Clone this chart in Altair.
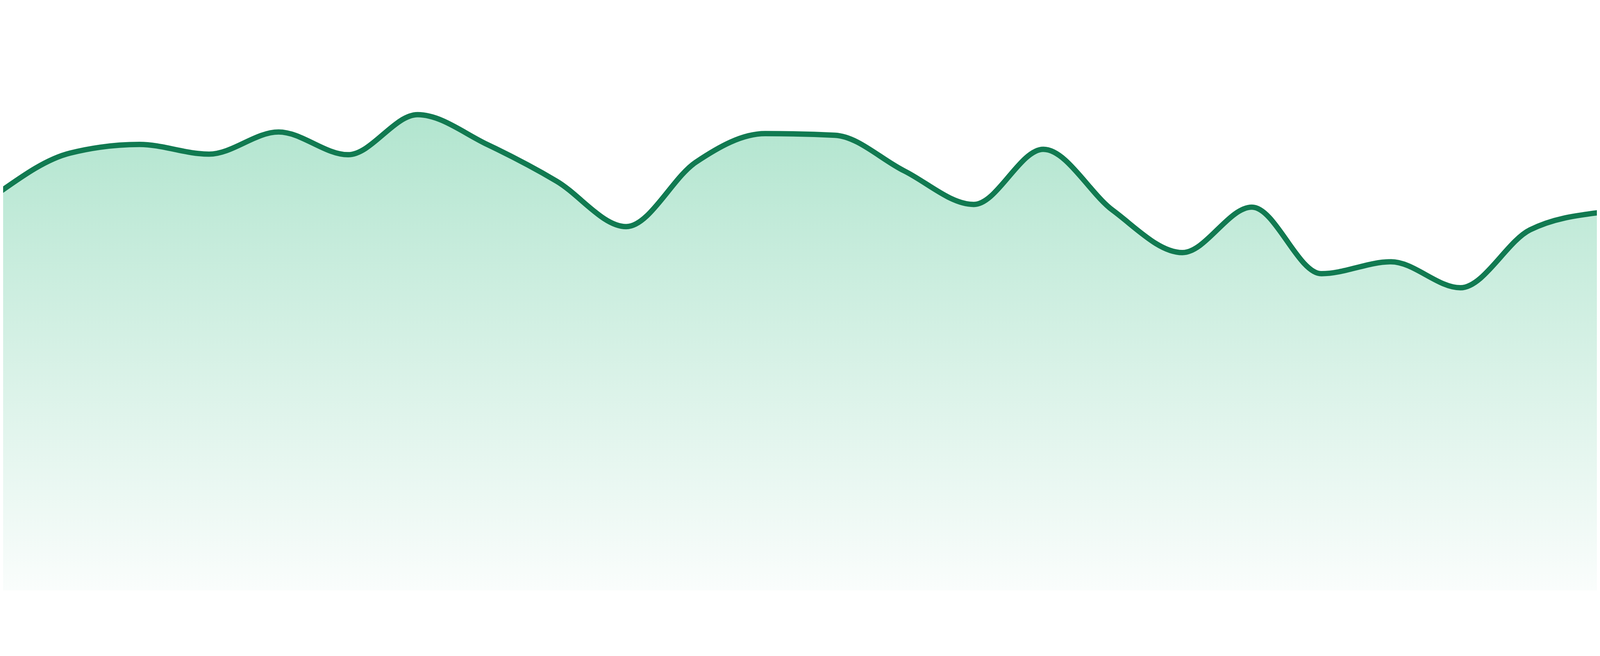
import altair as alt
import pandas as pd

# Values (arbitrary units, 0 = baseline, 100 = top of plot)
points = list(range(24))
values = [73.8, 80.9, 82.5, 80.7, 84.8, 80.6, 88.0, 82.5, 75.7, 67.3, 79.2, 84.5,
          84.2, 77.6, 71.4, 81.6, 70.3, 62.5, 70.9, 58.6, 60.8, 56.0, 66.7, 69.9]

df = pd.DataFrame({"i": points, "v": values})

x_enc = alt.X("i:Q", axis=None,
              scale=alt.Scale(domain=[0.0383, 22.9617], nice=False, zero=False))
y_enc = alt.Y("v:Q", axis=None, scale=alt.Scale(domain=[0, 100], nice=False))

area = alt.Chart(df).mark_area(
    interpolate="monotone",
    clip=True,
    color=alt.Gradient(
        gradient="linear",
        stops=[alt.GradientStop(color="#b2e5cf", offset=0),
               alt.GradientStop(color="#fafdfc", offset=1)],
        x1=1, x2=1, y1=0, y2=1,
    ),
).encode(x=x_enc, y=y_enc)

line = alt.Chart(df).mark_line(
    interpolate="monotone",
    clip=True,
    color="#117a51",
    strokeWidth=16,
).encode(x=x_enc, y=y_enc)

chart = alt.layer(area, line).properties(
    width=4784, height=1624, padding=0, background="white",
    autosize=alt.AutoSizeParams(type="none"),
).configure_view(stroke=None)

chart.save("out.html", embed_options={"renderer": "svg", "actions": False})
